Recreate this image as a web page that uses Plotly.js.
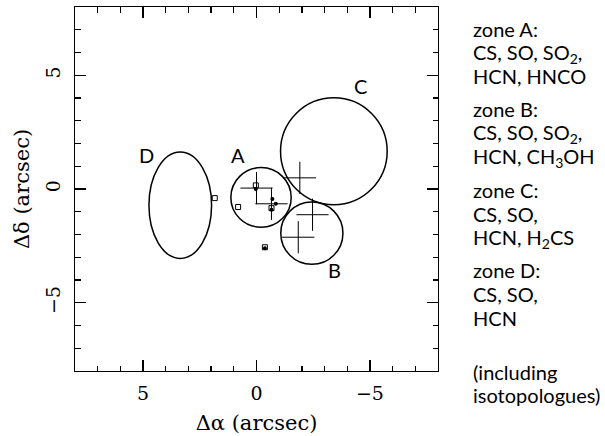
<!DOCTYPE html>
<html>
<head>
<meta charset="utf-8">
<script src="https://cdn.plot.ly/plotly-3.0.1.min.js"></script>
<style>html,body{margin:0;padding:0;background:#fff;}#chart{width:605px;height:436px;}</style>
</head>
<body>
<div id="chart"></div>
<script>
// Zones (circle / ellipse regions), arcsec offsets
const zoneNames = ["A", "B", "C", "D"];
const zoneCx = [-0.2, -2.44, -3.41, 3.36];
const zoneCy = [-0.37, -1.94, 1.66, -0.71];
const zoneRx = [1.33, 1.37, 2.35, 1.38];
const zoneRy = [1.31, 1.37, 2.35, 2.34];
const labelX = [0.81, -3.45, -4.59, 4.83];
const labelY = [1.51, -3.56, 4.53, 1.51];

// Large crosses
const crossX = [0.0, -0.66, -1.91, -2.47, -1.84];
const crossY = [0.04, -0.65, 0.49, -1.13, -2.12];

// Small open squares
const squareX = [1.84, 0.81, 0.03, -0.66, -0.37];
const squareY = [-0.4, -0.79, 0.16, -0.84, -2.56];

// Small filled dots
const dotX = [0.03, -0.7, -0.85, -0.66, -0.37];
const dotY = [0.0, -0.44, -0.65, -0.91, -2.6];

// Right-hand text
const sideLines = [
  "zone A:", "CS, SO, SO<sub>2</sub>,", "HCN, HNCO",
  "zone B:", "CS, SO, SO<sub>2</sub>,", "HCN, CH<sub>3</sub>OH",
  "zone C:", "CS, SO,", "HCN, H<sub>2</sub>CS",
  "zone D:", "CS, SO,", "HCN",
  "(including", "isotopologues)"
];
const sideLineY = [29, 53, 76, 109, 133, 157, 190, 214, 238, 270, 294, 318, 372, 395];

const W = 605, H = 436;
const M = {l: 75, r: 167, t: 7, b: 65};
const plotH = H - M.t - M.b;

const shapes = zoneNames.map((n, i) => ({
  type: "circle", xref: "x", yref: "y",
  x0: zoneCx[i] - zoneRx[i], x1: zoneCx[i] + zoneRx[i],
  y0: zoneCy[i] - zoneRy[i], y1: zoneCy[i] + zoneRy[i],
  line: {color: "#000", width: 1.5}
}));

const annotations = zoneNames.map((n, i) => ({
  x: labelX[i], y: labelY[i], xref: "x", yref: "y", text: n, showarrow: false,
  font: {family: "Lato, sans-serif", size: 20, color: "#000"}
}));

sideLines.forEach((t, i) => {
  annotations.push({
    xref: "paper", yref: "paper",
    x: (471 - M.l) / (W - M.l - M.r), y: 1 - (sideLineY[i] - M.t) / plotH,
    xanchor: "left", yanchor: "middle", showarrow: false, text: t,
    font: {family: "Lato, sans-serif", size: 20, color: "#000"}
  });
});

const traces = [
  {x: crossX, y: crossY, type: "scatter", mode: "markers", hoverinfo: "skip",
   marker: {symbol: "cross-thin", size: 23, color: "#000", line: {color: "#000", width: 1}}},
  {x: squareX, y: squareY, type: "scatter", mode: "markers", hoverinfo: "skip",
   marker: {symbol: "square-open", size: 5, color: "#000", line: {color: "#000", width: 1}}},
  {x: dotX, y: dotY, type: "scatter", mode: "markers", hoverinfo: "skip",
   marker: {symbol: "circle", size: 4, color: "#000"}}
];

const axisCommon = {
  showline: true, linecolor: "#000", linewidth: 1.3, mirror: "ticks",
  ticks: "inside", ticklen: 11, tickwidth: 1.3, tickcolor: "#000",
  tick0: 0, dtick: 5, showgrid: false, zeroline: false,
  minor: {ticks: "inside", dtick: 1, ticklen: 5.5, tickwidth: 1.3, tickcolor: "#000", showgrid: false},
  tickfont: {family: "DejaVu Serif, serif", size: 19, color: "#000"}
};

const layout = {
  width: W, height: H, margin: M, showlegend: false,
  paper_bgcolor: "#fff", plot_bgcolor: "#fff",
  xaxis: Object.assign({}, axisCommon, {
    range: [8, -8], ticklabelstandoff: 5,
    title: {text: "Δα (arcsec)", font: {family: "DejaVu Serif, serif", size: 21, color: "#000"}, standoff: 12}
  }),
  yaxis: Object.assign({}, axisCommon, {
    range: [-8, 8], tickangle: -90, ticklabelstandoff: 6,
    title: {text: "Δδ (arcsec)", font: {family: "DejaVu Serif, serif", size: 21, color: "#000"}, standoff: 6}
  }),
  shapes: shapes, annotations: annotations
};

Plotly.newPlot("chart", traces, layout, {staticPlot: true, displayModeBar: false});
</script>
</body>
</html>
